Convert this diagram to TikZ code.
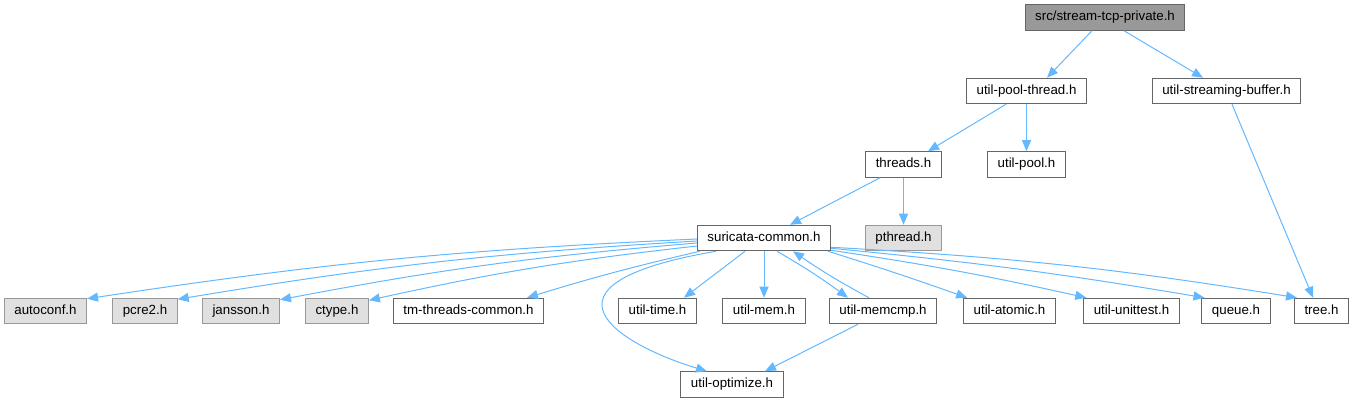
\documentclass[tikz,border=0pt]{standalone}
\usepackage{fontspec}
\setmainfont{Liberation Sans}
\usetikzlibrary{arrows.meta}
\definecolor{edgec}{HTML}{63B8FF}
\definecolor{bord}{HTML}{666666}
\definecolor{gbord}{HTML}{999999}
\definecolor{gfill}{HTML}{E0E0E0}
\definecolor{tfill}{HTML}{999999}
\begin{document}
\begin{tikzpicture}[x=1pt,y=1pt,
 box/.style={draw=bord, fill=white, line width=1pt, minimum height=25.5pt, inner xsep=10pt, inner ysep=0pt,
   font=\fontsize{13.3}{15}\selectfont, text height=9.6pt, text depth=2.8pt},
 sysbox/.style={box, draw=gbord, fill=gfill},
 topbox/.style={box, draw=bord, fill=tfill},
 edge/.style={draw=edgec, line width=1pt, -{Triangle[length=11pt,width=9pt]}}]
\useasboundingbox (0,0) rectangle (1354,-403);
% nodes
\node[topbox] (top) at (1105,-17.5) {src/stream-tcp-private.h};
\node[box] (upt) at (1026.5,-91) {util-pool-thread.h};
\node[box] (usb) at (1226.5,-91) {util-streaming-buffer.h};
\node[box] (thr) at (903.5,-164.5) {threads.h};
\node[box] (upool) at (1026.5,-164.5) {util-pool.h};
\node[box] (sc) at (764,-238) {suricata-common.h};
\node[sysbox] (pth) at (903.5,-238) {pthread.h};
\node[sysbox] (autoconf) at (45.5,-311) {autoconf.h};
\node[sysbox] (pcre) at (145,-311) {pcre2.h};
\node[sysbox] (jansson) at (241,-311) {jansson.h};
\node[sysbox] (ctype) at (337,-311) {ctype.h};
\node[box] (tmtc) at (468.5,-311) {tm-threads-common.h};
\node[box] (utime) at (657.5,-311) {util-time.h};
\node[box] (umem) at (764,-311) {util-mem.h};
\node[box] (umemcmp) at (883,-311) {util-memcmp.h};
\node[box] (uatomic) at (1009.5,-311) {util-atomic.h};
\node[box] (uunit) at (1131.5,-311) {util-unittest.h};
\node[box] (queue) at (1236,-311) {queue.h};
\node[box] (tree) at (1321.5,-311) {tree.h};
\node[box] (uopt) at (732,-384.5) {util-optimize.h};
% edges
\draw[edge] ([xshift=-13pt]top.south) -- ([xshift=20.5pt]upt.north);
\draw[edge] ([xshift=19pt]top.south) -- ([xshift=-23.5pt]usb.north);
\draw[edge] ([xshift=-20.5pt]upt.south) -- ([xshift=24.5pt]thr.north);
\draw[edge] (upt.south) -- (upool.north);
\draw[edge] ([xshift=5.5pt]usb.south) -- ([xshift=-8.5pt]tree.north);
\draw[edge] ([xshift=-23.5pt]thr.south) -- ([xshift=26pt]sc.north);
\draw[edge] (thr.south) -- (pth.north);
% from suricata-common, left side
\draw[edge] ([yshift=-1pt]sc.west) to[bend right=3] ([yshift=-1pt]autoconf.north east);
\draw[edge] ([yshift=-3pt]sc.west) to[bend right=3] ([yshift=-1.5pt]pcre.north east);
\draw[edge] ([yshift=-5pt]sc.west) to[bend right=3] ([yshift=-2pt]jansson.north east);
\draw[edge] ([yshift=-8pt]sc.west) to[bend right=3] ([yshift=-2.5pt]ctype.north east);
\draw[edge] ([xshift=3pt]sc.south west) to[bend right=2] ([xshift=58.5pt]tmtc.north);
\draw[edge] ([xshift=-48pt]sc.south) .. controls (520,-285) and (620,-345) .. ([xshift=-25pt]uopt.north);
\draw[edge] ([xshift=-19pt]sc.south) -- ([xshift=26.5pt]utime.north);
\draw[edge] (sc.south) -- (umem.north);
\draw[edge] ([xshift=13pt]sc.south) to[bend left=3] ([xshift=-35pt]umemcmp.north);
\draw[edge] ([xshift=-14pt]umemcmp.north) to[bend left=3] ([xshift=29pt]sc.south);
\draw[edge] ([xshift=-25pt]umemcmp.south) -- ([xshift=33pt]uopt.north);
% right side
\draw[edge] ([xshift=-3pt]sc.south east) to[bend left=1] ([xshift=4pt]uatomic.north west);
\draw[edge] ([yshift=1pt]sc.south east) to[bend left=2] ([xshift=3pt]uunit.north west);
\draw[edge] ([yshift=3pt]sc.south east) to[bend left=2] ([xshift=3pt]queue.north west);
\draw[edge] ([yshift=4pt]sc.south east) to[bend left=3] ([xshift=3pt]tree.north west);
\end{tikzpicture}
\end{document}
